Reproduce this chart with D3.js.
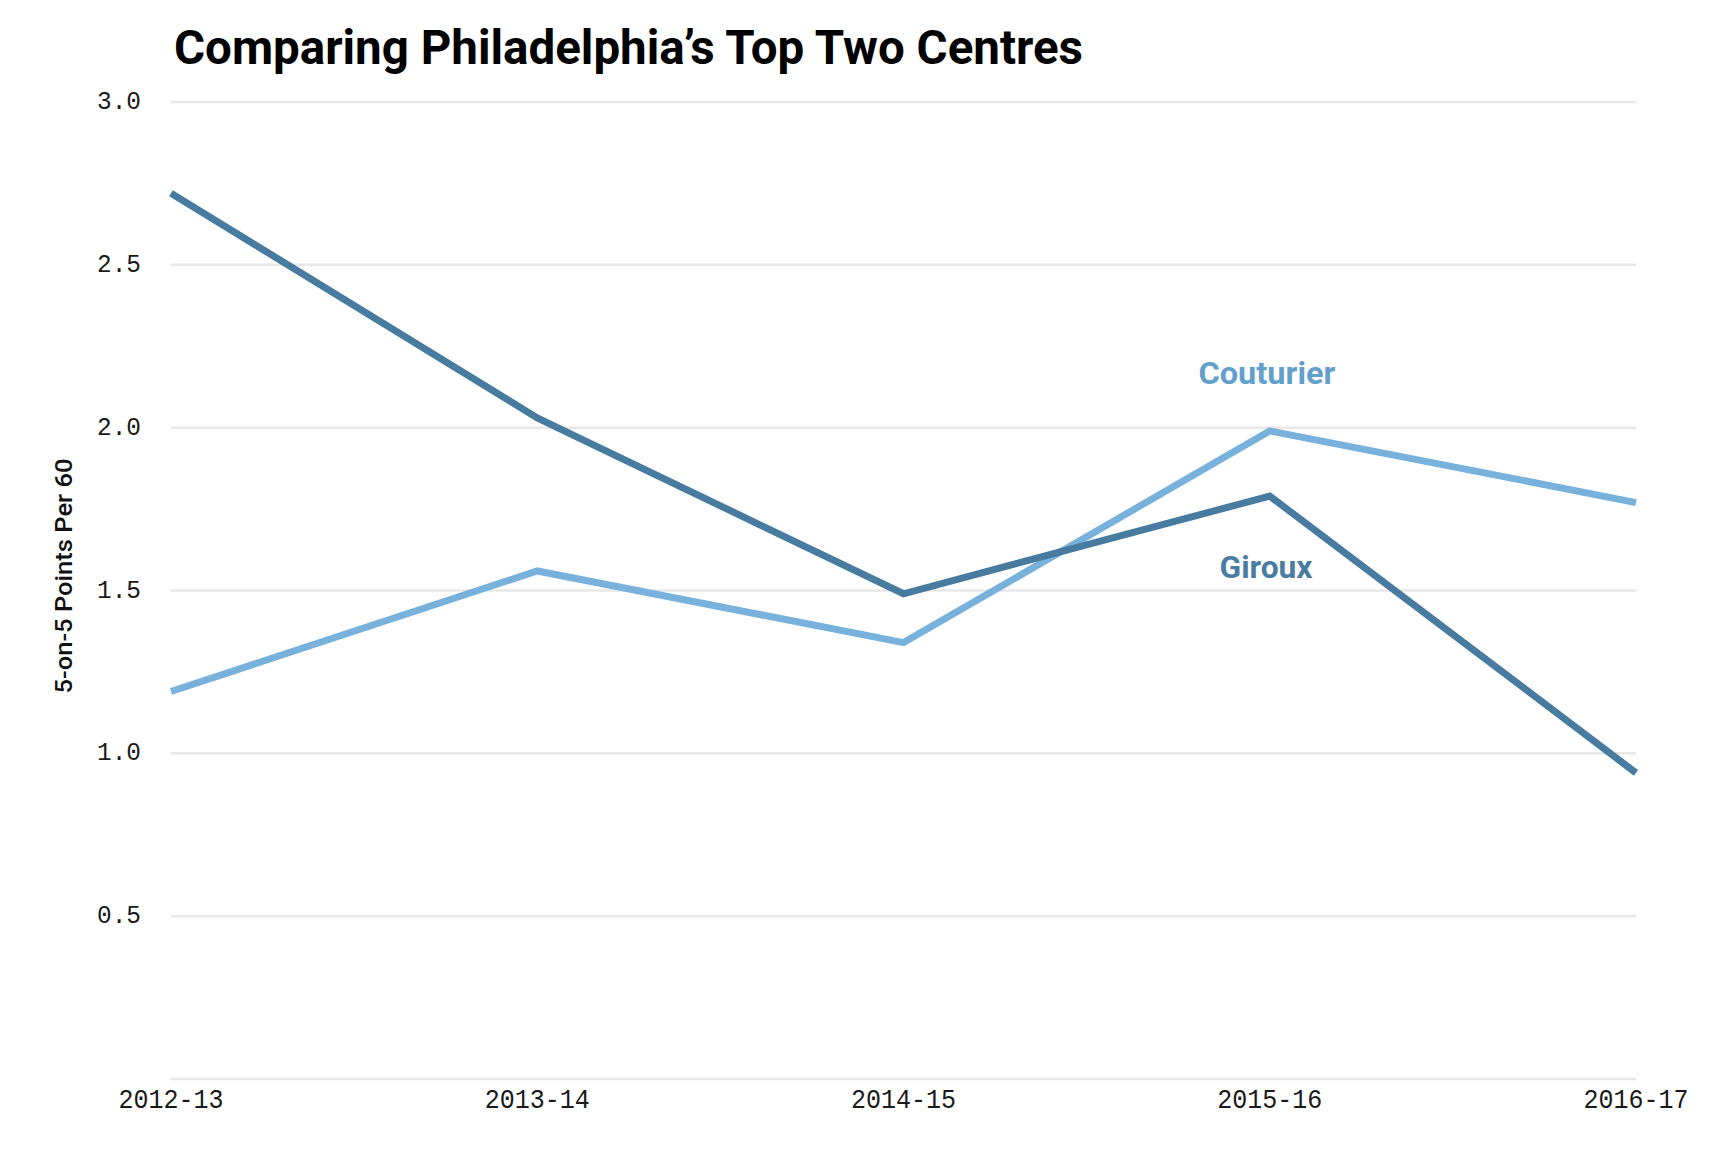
<!DOCTYPE html>
<html>
<head>
<meta charset="utf-8">
<script src="https://cdn.jsdelivr.net/npm/d3@7"></script>
<style>
  html, body { margin: 0; padding: 0; background: #fff; }
  svg { display: block; }
</style>
</head>
<body>
<svg id="chart" width="1732" height="1162"></svg>
<script>
const seasons = ["2012-13", "2013-14", "2014-15", "2015-16", "2016-17"];
const giroux = [2.72, 2.03, 1.49, 1.79, 0.94];
const couturier = [1.19, 1.56, 1.34, 1.99, 1.77];
const yTicks = [0.5, 1.0, 1.5, 2.0, 2.5, 3.0];
const gridValues = [0, 0.5, 1.0, 1.5, 2.0, 2.5, 3.0];
const titleText = "Comparing Philadelphia\u2019s Top Two Centres";
const yTitle = "5-on-5 Points Per 60";

const svg = d3.select("#chart");
const x = d3.scalePoint().domain(seasons).range([171, 1636]);
const y = d3.scaleLinear().domain([0, 3]).range([1079, 102]);

// gridlines
svg.append("g").selectAll("line").data(gridValues).join("line")
  .attr("x1", x.range()[0]).attr("x2", x.range()[1])
  .attr("y1", d => y(d)).attr("y2", d => y(d))
  .attr("stroke", "#e8e8e8").attr("stroke-width", 2.5);

// y tick labels
svg.append("g").selectAll("text").data(yTicks).join("text")
  .attr("x", 141).attr("y", d => y(d))
  .attr("text-anchor", "end").attr("dominant-baseline", "central")
  .attr("font-family", "'Liberation Mono', monospace")
  .attr("font-size", 26).attr("fill", "#1a1a1a")
  .attr("textLength", 44).attr("lengthAdjust", "spacingAndGlyphs")
  .text(d => d3.format(".1f")(d));

// x tick labels
svg.append("g").selectAll("text").data(seasons).join("text")
  .attr("x", d => x(d)).attr("y", 1108)
  .attr("text-anchor", "middle")
  .attr("font-family", "'Liberation Mono', monospace")
  .attr("font-size", 27).attr("fill", "#1a1a1a")
  .attr("textLength", 105).attr("lengthAdjust", "spacingAndGlyphs")
  .text(d => d);

// y axis title
svg.append("text")
  .attr("transform", "translate(72,576) rotate(-90)")
  .attr("text-anchor", "middle")
  .attr("font-family", "Roboto, sans-serif").attr("font-weight", 500)
  .attr("font-size", 24).attr("fill", "#111")
  .attr("textLength", 235).attr("lengthAdjust", "spacingAndGlyphs")
  .text(yTitle);

// title
svg.append("text")
  .attr("x", 174).attr("y", 64)
  .attr("font-family", "Roboto, sans-serif").attr("font-weight", 700)
  .attr("font-size", 48).attr("fill", "#000")
  .attr("textLength", 909).attr("lengthAdjust", "spacingAndGlyphs")
  .text(titleText);

const line = d3.line().x((d, i) => x(seasons[i])).y(d => y(d));

svg.append("path").datum(couturier)
  .attr("d", line).attr("fill", "none")
  .attr("stroke", "#77b1dc").attr("stroke-width", 7);

svg.append("path").datum(giroux)
  .attr("d", line).attr("fill", "none")
  .attr("stroke", "#487ba0").attr("stroke-width", 7);

// series labels
svg.append("text")
  .attr("x", 1267).attr("y", 384).attr("text-anchor", "middle")
  .attr("font-family", "Roboto, sans-serif").attr("font-weight", 700)
  .attr("font-size", 31).attr("fill", "#62a0cb")
  .attr("textLength", 137).attr("lengthAdjust", "spacingAndGlyphs")
  .text("Couturier");

svg.append("text")
  .attr("x", 1266).attr("y", 578).attr("text-anchor", "middle")
  .attr("font-family", "Roboto, sans-serif").attr("font-weight", 700)
  .attr("font-size", 31).attr("fill", "#4a7ca1")
  .attr("textLength", 93).attr("lengthAdjust", "spacingAndGlyphs")
  .text("Giroux");
</script>
</body>
</html>
